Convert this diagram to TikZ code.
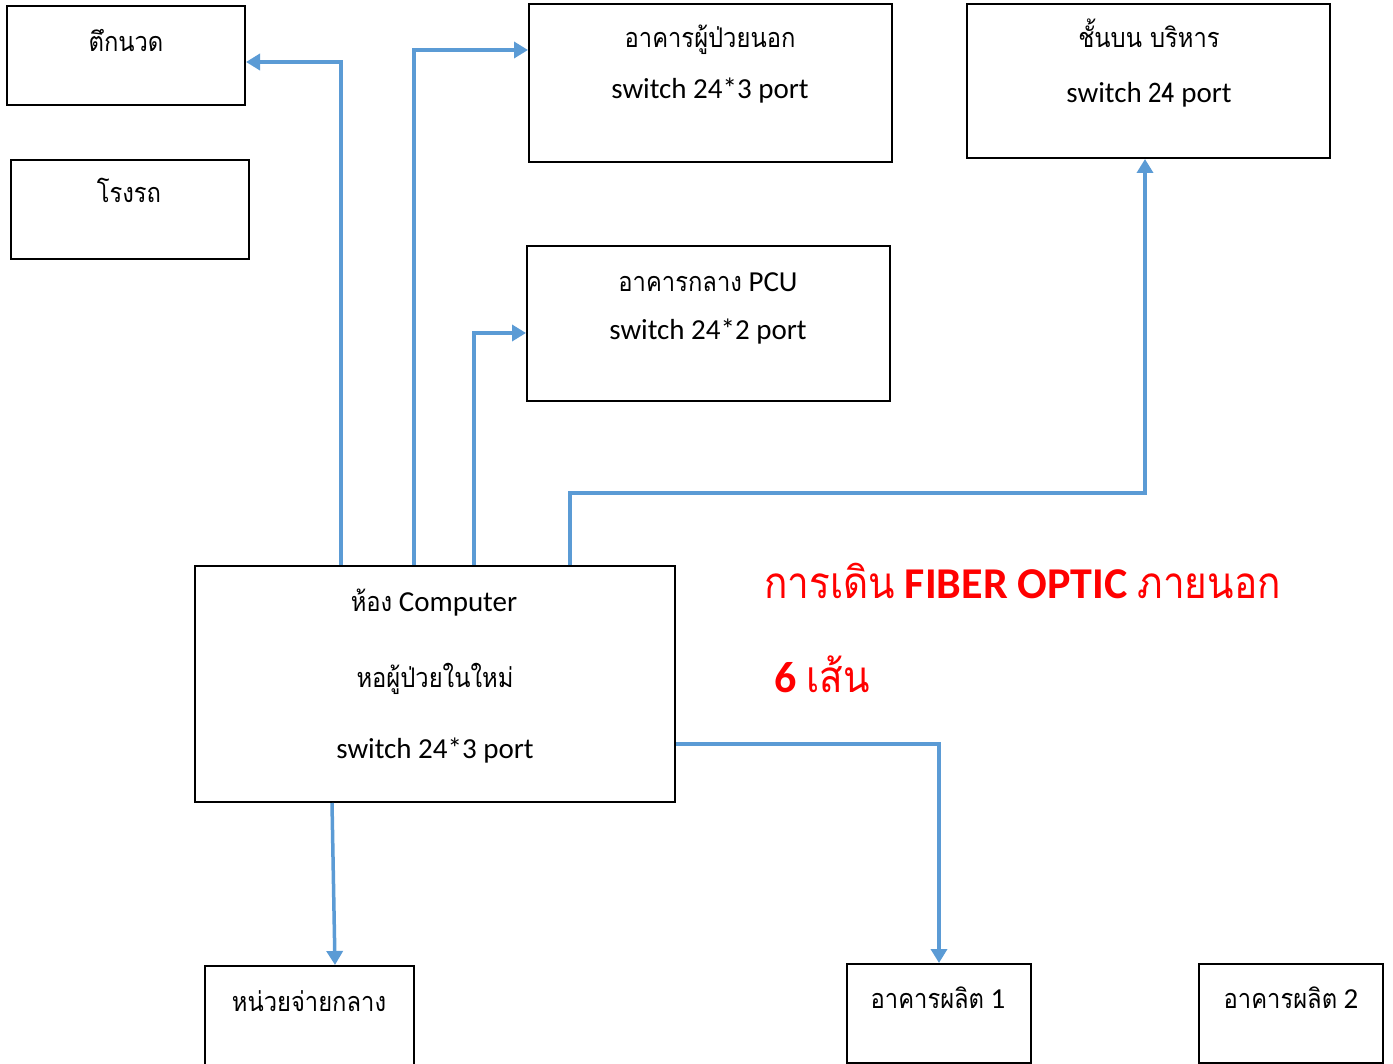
\documentclass[tikz,border=0pt]{standalone}
\usepackage{fontspec}
\setmainfont{Carlito}
\newfontfamily\thaifont[Script=Thai,FakeStretch=0.88]{Loma}
\usetikzlibrary{arrows.meta}
\definecolor{linkblue}{RGB}{91,155,213}
\definecolor{titlered}{RGB}{255,0,0}
\tikzset{
  box/.style={draw=black, line width=2pt, inner sep=0pt, fill=none},
  lbl/.style={anchor=base, inner sep=0pt, font=\fontsize{29}{34}\selectfont},
  redlbl/.style={anchor=base west, inner sep=0pt, text=titlered, font=\fontsize{44}{50}\selectfont\bfseries},
  conn/.style={draw=linkblue, line width=3.5pt, -{Triangle[length=14pt,width=16pt]}},
}
\newcommand{\tf}[1]{{\thaifont\fontsize{27}{34}\selectfont #1}}
\newcommand{\tfr}[1]{{\thaifont\mdseries\fontsize{44}{50}\selectfont #1}}
\begin{document}
\begin{tikzpicture}[x=1pt,y=-1pt]
\useasboundingbox (0,0) rectangle (1393,1064);
\clip (0,0) rectangle (1393,1064);
% boxes
\node[box, minimum width=238pt, minimum height=99pt] (tuk) at (126,55.5) {};
\node[box, minimum width=238pt, minimum height=99pt] (garage) at (130,209.5) {};
\node[box, minimum width=363pt, minimum height=158pt] (opd) at (710.5,83) {};
\node[box, minimum width=363pt, minimum height=154pt] (adm) at (1148.5,81) {};
\node[box, minimum width=363pt, minimum height=155pt] (pcu) at (708.5,323.5) {};
\node[box, minimum width=480pt, minimum height=236pt] (comp) at (435,684) {};
\node[box, minimum width=209pt, minimum height=110pt] (cen) at (309.5,1021) {};
\node[box, minimum width=184pt, minimum height=99pt] (p1) at (939,1013.5) {};
\node[box, minimum width=184pt, minimum height=99pt] (p2) at (1291,1013.5) {};
% labels
\node[lbl] (ttuk) at (126,52) {\tf{ตึกนวด}};
\node[lbl] (tgarage) at (129,203) {\tf{โรงรถ}};
\node[lbl] (topd1) at (710,48) {\tf{อาคารผู้ป่วยนอก}};
\node[lbl] (topd2) at (710,99) {switch 24*3 port};
\node[lbl] (tadm1) at (1149,48) {\tf{ชั้นบน บริหาร}};
\node[lbl] (tadm2) at (1149,103) {switch \tf{24} port};
\node[lbl] (tpcu1) at (708,292) {\tf{อาคารกลาง} PCU};
\node[lbl] (tpcu2) at (708,340) {switch 24*2 port};
\node[lbl] (tcomp1) at (434,611) {\tf{ห้อง} Computer};
\node[lbl] (tcomp2) at (435,687) {\tf{หอผู้ป่วยในใหม่}};
\node[lbl] (tcomp3) at (435,758) {switch 24*3 port};
\node[lbl] (tcen) at (309,1011) {\tf{หน่วยจ่ายกลาง}};
\node[lbl] (tp1) at (938,1008) {\tf{อาคารผลิต} 1};
\node[lbl] (tp2) at (1291,1008) {\tf{อาคารผลิต} 2};
\node[redlbl] (title1) at (764,598) {\tfr{การเดิน} FIBER OPTIC \tfr{ภายนอก}};
\node[redlbl] (title2) at (774,692) {6 \tfr{เส้น}};
% connectors
\draw[conn] ([xshift=147pt]comp.north west) |- ([yshift=-6.5pt]tuk.east);
\draw[conn] ([xshift=220pt]comp.north west) |- ([yshift=33pt]opd.west);
\draw[conn] ([xshift=280pt]comp.north west) |- ([yshift=-9.5pt]pcu.west);
\draw[conn] ([xshift=376pt]comp.north west) -- ++(0,-72) -| ([xshift=-3.5pt]adm.south);
\draw[conn] ([yshift=-60pt]comp.east) -| (p1.north);
\draw[conn] ([xshift=138pt]comp.south west) -- ([xshift=25.5pt]cen.north);
\end{tikzpicture}
\end{document}
